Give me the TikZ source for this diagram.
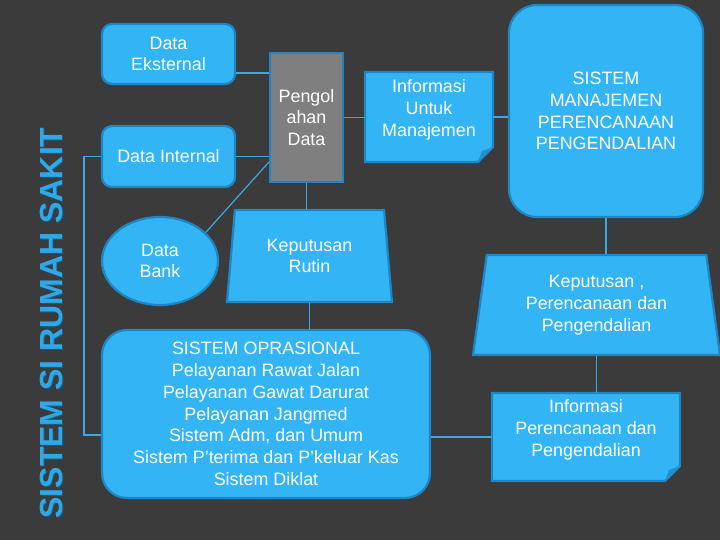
\documentclass[tikz,border=0pt]{standalone}
\usepackage{fontspec}
\setmainfont{Liberation Sans}
\usetikzlibrary{shapes.geometric,calc}
\definecolor{bg}{HTML}{3B3B3B}
\definecolor{boxfill}{HTML}{33B4F4}
\definecolor{boxline}{HTML}{1E86C4}
\definecolor{connc}{HTML}{3AAAE2}
\definecolor{greyfill}{HTML}{7F7F7F}
\definecolor{titlec}{HTML}{2FA8E8}
\definecolor{titleshadow}{HTML}{17608E}
\definecolor{foldc}{HTML}{2490D0}
\newcommand\mydocshape[1]{%
  \filldraw[fill=boxfill,draw=boxline,line width=2.2pt,line join=miter]
    (#1.north west) -- (#1.north east) -- ([yshift=15pt]#1.south east)
    -- ([xshift=-15pt]#1.south east) -- (#1.south west) -- cycle;
  \fill[foldc] ([yshift=15pt]#1.south east) -- ([xshift=-15pt]#1.south east)
    -- ([xshift=-11pt,yshift=11pt]#1.south east) -- cycle;
}
\begin{document}
\begin{tikzpicture}[x=1pt,y=-1pt,
  box/.style={draw=boxline, line width=2.2pt, fill=boxfill, text=white,
    font=\fontsize{17.9}{21.8}\selectfont, align=center, inner sep=0pt},
  rbox/.style={box, rectangle, rounded corners=10pt},
  trap/.style={box, trapezium, trapezium left angle=77, trapezium right angle=77,
    trapezium stretches body},
  txt/.style={text=white, font=\fontsize{17.9}{21.8}\selectfont, align=center, inner sep=0pt},
  holder/.style={inner sep=0pt, outer sep=0pt},
  conn/.style={draw=connc, line width=1.2pt}]
\fill[bg] (0,0) rectangle (720,540);
\useasboundingbox (0,0) rectangle (720,540);

% title
\node[rotate=90, font=\fontsize{32}{32}\selectfont\bfseries, text=titleshadow] (ts) at (52.5,324) {SISTEM SI RUMAH SAKIT};
\node[rotate=90, font=\fontsize{32}{32}\selectfont\bfseries, text=titlec] (tt) at (51,323) {SISTEM SI RUMAH SAKIT};

% nodes
\node[rbox, minimum width=133pt, minimum height=60pt] (de) at (168.5,54) {Data\\Eksternal};
\node[rbox, minimum width=133pt, minimum height=61pt] (di) at (168.5,156.5) {Data Internal};
\node[box, ellipse, minimum width=116pt, minimum height=88pt] (db) at (160,261) {Data\\Bank};
\node[box, rectangle, fill=greyfill, minimum width=73pt, minimum height=129pt] (pd) at (306.5,117.5) {Pengol\\ahan\\Data};

\node[holder, minimum width=128pt, minimum height=90pt] (im) at (429,117) {};
\mydocshape{im}
\node[txt] (imt) at (429,110) {Informasi\\Untuk\\Manajemen};

\node[rbox, rounded corners=28pt, minimum width=194pt, minimum height=212pt] (sm) at (606,111) {SISTEM\\MANAJEMEN\\PERENCANAAN\\PENGENDALIAN};

\node[trap, minimum width=165pt, minimum height=92pt] (kr) at (309.5,256) {Keputusan\\Rutin};
\node[trap, minimum width=247pt, minimum height=100pt] (kp) at (596.5,305) {Keputusan ,\\Perencanaan dan\\Pengendalian};

\node[rbox, rounded corners=25pt, minimum width=328pt, minimum height=168pt] (so) at (266,414)
  {SISTEM OPRASIONAL\\Pelayanan Rawat Jalan\\Pelayanan Gawat Darurat\\Pelayanan Jangmed\\Sistem Adm, dan Umum\\Sistem P’terima dan P’keluar Kas\\Sistem Diklat};

\node[holder, minimum width=188pt, minimum height=88pt] (ip) at (586,437) {};
\mydocshape{ip}
\node[txt] (ipt) at (586,430) {Informasi\\Perencanaan dan\\Pengendalian};

% connectors
\draw[conn] ([yshift=-19pt]de.east) -- ([yshift=-19pt]de.east -| pd.west);
\draw[conn] (di.east) -- (di.east -| pd.west);
\draw[conn] (db.32) -- ([yshift=21pt]pd.south west);
\draw[conn] (pd.east) -- (pd.east -| im.west);
\draw[conn] (im.east) -- (im.east -| sm.west);
\draw[conn] (pd.south) -- (pd.south |- kr.north);
\draw[conn] (kr.south) -- (kr.south |- so.north);
\draw[conn] (sm.south) -- (sm.south |- kp.north);
\draw[conn] (kp.south) -- (kp.south |- ip.north);
\draw[conn] (ip.west) -- (ip.west -| so.east);
\draw[conn] (di.west) -- ++(-17,0) |- ([yshift=-21pt]so.west);
\end{tikzpicture}
\end{document}
